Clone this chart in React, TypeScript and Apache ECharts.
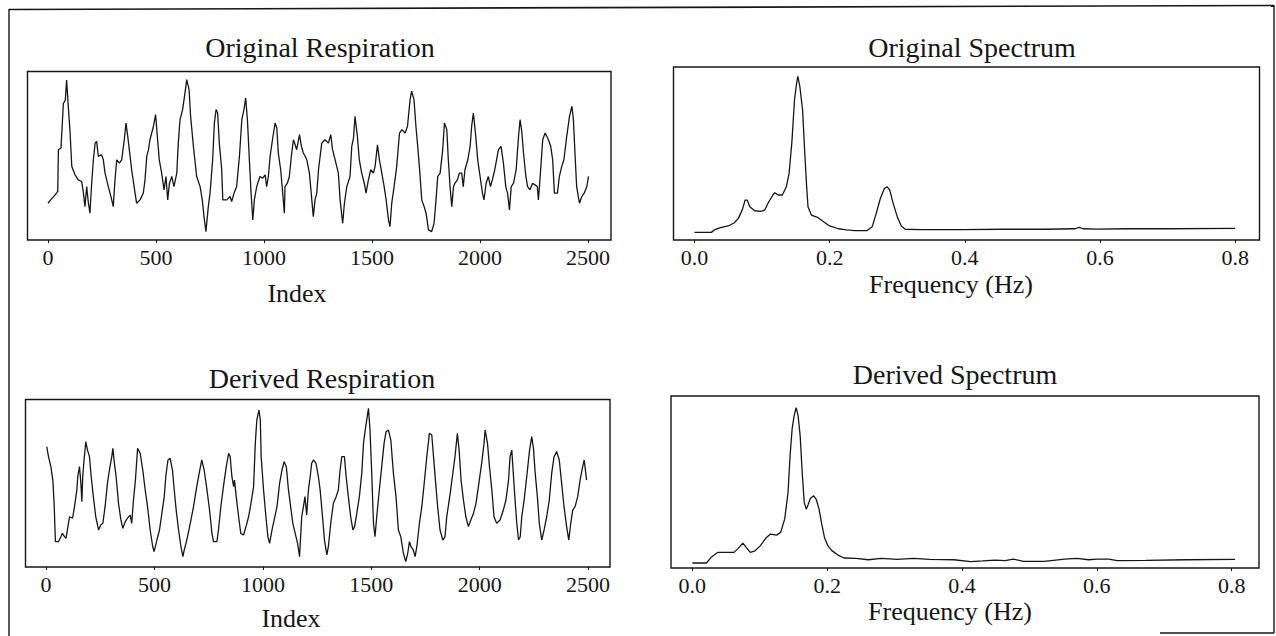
import React, { useEffect, useRef } from "react";
import * as echarts from "echarts";

// Respiration traces: [sample index, normalised amplitude 0-100]
const originalRespiration: [number, number][] = [
  [0, 21.8], [12, 23.8], [33, 26.8], [45, 28.8], [48, 53.6], [60, 54.6], [71, 81], [80, 83], [86, 95], [94, 79],
  [102, 64], [110, 43.6], [125, 38.7], [140, 35.7], [156, 34.7], [164, 27.8], [171, 19.8], [179, 31.7], [187, 21.8], [194, 15.9],
  [202, 33.7], [210, 47.6], [218, 57.5], [225, 58.5], [233, 49.6], [248, 50.6], [256, 47.6], [264, 39.7], [279, 31.7], [295, 23.8],
  [302, 19.8], [310, 35.7], [318, 47.6], [330, 45.6], [341, 47.6], [353, 59.5], [361, 69.4], [369, 61.5], [380, 49.6], [387, 41.7],
  [403, 27.8], [410, 21.8], [426, 23.8], [441, 27.8], [449, 35.7], [457, 49.6], [465, 53.6], [472, 59.5], [488, 67.5], [498, 74.4],
  [506, 61.5], [515, 47.6], [526, 39.7], [537, 29.8], [546, 37.7], [554, 23.8], [562, 33.7], [573, 37.7], [583, 31.7], [596, 39.7],
  [603, 57.5], [611, 71.4], [623, 77.4], [634, 87.3], [642, 95.2], [653, 89.3], [660, 73.4], [673, 55.6], [688, 37.7], [704, 31.7],
  [714, 23.8], [722, 13.9], [731, 5], [742, 19.8], [750, 27.8], [762, 47.6], [770, 69.4], [778, 77.4], [785, 75.4], [793, 57.5],
  [804, 41.7], [809, 23.8], [827, 23.8], [843, 25.8], [850, 22.8], [861, 27.8], [873, 31.7], [886, 49.6], [897, 71.4], [907, 77.4],
  [915, 84.3], [923, 71.4], [932, 47.6], [940, 27.8], [948, 11.9], [955, 23.8], [966, 31.7], [981, 37.7], [994, 36.7], [1005, 38.7],
  [1012, 31.7], [1020, 37.7], [1028, 49.6], [1039, 59.5], [1051, 69.4], [1059, 66.5], [1066, 51.6], [1077, 41.7], [1085, 29.8], [1094, 15.9],
  [1097, 31.7], [1108, 33.7], [1117, 37.7], [1128, 51.6], [1136, 59.5], [1144, 56.5], [1151, 53.6], [1164, 62.5], [1173, 55.6], [1182, 51.6],
  [1198, 47.6], [1210, 39.7], [1221, 23.8], [1228, 13.9], [1236, 23.8], [1244, 27.8], [1252, 41.7], [1267, 57.5], [1282, 59.5], [1298, 57.5],
  [1309, 62.5], [1317, 53.6], [1329, 47.6], [1344, 39.7], [1352, 23.8], [1364, 9.9], [1372, 21.8], [1383, 31.7], [1398, 37.7], [1406, 55.6],
  [1414, 60.5], [1421, 73.4], [1432, 61.5], [1441, 47.6], [1452, 39.7], [1464, 33.7], [1472, 27.8], [1483, 35.7], [1494, 41.7], [1506, 39.7],
  [1514, 43.7], [1525, 56.5], [1534, 47.6], [1545, 39.7], [1556, 31.7], [1565, 23.8], [1576, 11.9], [1583, 7.9], [1591, 21.8], [1602, 31.7],
  [1614, 43.7], [1627, 63.5], [1638, 65.5], [1653, 63.5], [1664, 67.5], [1676, 83.3], [1683, 88.3], [1694, 83.3], [1703, 67.5], [1710, 57.5],
  [1719, 43.7], [1730, 23.8], [1741, 19.8], [1750, 15.9], [1761, 6], [1776, 5], [1787, 9.9], [1796, 23.8], [1804, 37.7], [1815, 39.7],
  [1827, 53.6], [1835, 69.4], [1846, 65.5], [1853, 47.6], [1861, 31.7], [1869, 19.8], [1877, 31.7], [1884, 33.7], [1895, 35.7], [1904, 39.7],
  [1915, 39.7], [1922, 31.7], [1930, 41.7], [1943, 47.6], [1954, 55.6], [1961, 67.5], [1969, 75.4], [1980, 61.5], [1989, 47.6], [2000, 37.7],
  [2011, 27.8], [2018, 23.8], [2028, 33.7], [2038, 37.7], [2048, 31.7], [2057, 35.7], [2068, 41.7], [2085, 53.6], [2097, 55.6], [2108, 45.6],
  [2119, 31.7], [2127, 27.8], [2136, 17.9], [2144, 31.7], [2155, 33.7], [2167, 41.7], [2178, 61.5], [2185, 71.4], [2193, 64.5], [2201, 51.6],
  [2212, 37.7], [2220, 31.7], [2231, 29.8], [2243, 33.7], [2254, 32.7], [2265, 31.7], [2270, 23.8], [2277, 35.7], [2290, 59.5], [2301, 63.5],
  [2313, 60.5], [2327, 55.6], [2336, 47.6], [2344, 27.8], [2358, 27.8], [2367, 37.7], [2378, 43.7], [2388, 47.6], [2401, 61.5], [2414, 73.4],
  [2425, 79.4], [2432, 71.4], [2440, 49.6], [2447, 31.7], [2460, 21.8], [2471, 25.8], [2482, 27.8], [2494, 31.7], [2502, 37.7],
];

const derivedRespiration: [number, number][] = [
  [3, 71.8], [11, 65.9], [22, 59.9], [31, 51.9], [37, 38], [43, 15.1], [57, 15.1], [68, 18.1], [75, 20.1], [85, 18.1],
  [92, 17.1], [103, 26.1], [108, 30], [122, 29.1], [131, 36], [142, 46], [146, 53.9], [154, 59.9], [160, 50.9], [165, 39],
  [169, 53.9], [175, 63.9], [183, 74.8], [191, 69.8], [200, 65.9], [208, 53.9], [218, 42], [229, 30], [242, 22.1], [252, 25.1],
  [262, 26.1], [272, 36], [283, 49.9], [292, 57.9], [303, 65.9], [308, 70.8], [315, 61.9], [323, 53.9], [334, 38], [345, 28.1],
  [354, 23.1], [365, 27.1], [375, 29.1], [388, 31], [395, 26.1], [403, 40], [412, 51.9], [422, 70.8], [434, 67.9], [446, 57.9],
  [457, 46], [468, 36], [480, 22.1], [492, 12.1], [498, 9.2], [511, 16.1], [523, 22.1], [534, 32], [545, 42], [552, 53.9],
  [562, 63.9], [572, 64.9], [583, 57.9], [591, 46], [600, 34], [611, 22.1], [622, 12.1], [631, 6.2], [637, 10.1], [649, 16.1],
  [665, 26.1], [680, 36], [695, 48], [706, 55.9], [718, 63.9], [729, 57.9], [742, 46], [754, 34], [765, 20.1], [772, 15.1],
  [788, 15.1], [795, 22.1], [806, 36], [818, 48], [831, 59.9], [842, 67.9], [849, 65.9], [857, 53.9], [865, 48], [869, 51.9],
  [877, 42], [888, 30], [898, 20.1], [911, 19.1], [922, 24.1], [934, 30], [945, 38], [957, 48], [965, 73.8], [972, 87.8],
  [982, 93.7], [988, 87.8], [992, 65.9], [1003, 46], [1014, 30], [1023, 18.1], [1031, 14.1], [1042, 22.1], [1052, 28.1], [1065, 36],
  [1077, 49.9], [1088, 57.9], [1098, 62.9], [1108, 59.9], [1118, 46], [1126, 38], [1138, 26.1], [1149, 20.1], [1160, 14.1], [1169, 6.2],
  [1179, 30], [1187, 36], [1194, 42], [1202, 31], [1210, 46], [1218, 53.9], [1225, 61.9], [1233, 63.9], [1245, 61.9], [1256, 53.9],
  [1264, 46], [1275, 30], [1284, 16.1], [1295, 7.2], [1302, 12.1], [1313, 26.1], [1325, 38], [1338, 42], [1348, 46], [1356, 57.9],
  [1364, 65.9], [1376, 65.9], [1384, 53.9], [1394, 42], [1405, 30], [1415, 22.1], [1423, 24.1], [1433, 32], [1445, 42], [1456, 55.9],
  [1464, 73.8], [1472, 81.8], [1479, 87.8], [1487, 94.7], [1494, 81.8], [1502, 55.9], [1510, 26.1], [1517, 18.1], [1525, 30], [1537, 46],
  [1548, 59.9], [1559, 73.8], [1568, 80.8], [1579, 81.8], [1590, 75.8], [1602, 55.9], [1614, 42], [1625, 22.1], [1636, 18.1], [1648, 8.2],
  [1659, 3.2], [1668, 8.2], [1676, 15.1], [1683, 12.1], [1694, 10.1], [1702, 6.2], [1710, 12.1], [1722, 26.1], [1733, 36], [1744, 49.9],
  [1756, 65.9], [1768, 79.8], [1779, 78.8], [1787, 65.9], [1797, 49.9], [1806, 36], [1817, 22.1], [1830, 16.1], [1840, 18.1], [1848, 30],
  [1864, 44], [1876, 55.9], [1886, 65.9], [1897, 79.8], [1905, 69.8], [1914, 51.9], [1925, 40], [1936, 30], [1948, 24.1], [1959, 28.1],
  [1971, 32], [1983, 38], [1994, 48], [2009, 61.9], [2020, 73.8], [2025, 81.8], [2036, 73.8], [2045, 59.9], [2056, 46], [2066, 30],
  [2078, 26.1], [2094, 28.1], [2109, 34], [2121, 40], [2133, 51.9], [2140, 65.9], [2148, 69.8], [2156, 53.9], [2163, 40], [2171, 26.1],
  [2179, 16.1], [2187, 18.1], [2194, 30], [2205, 40], [2217, 53.9], [2230, 69.8], [2240, 77.8], [2248, 70.8], [2256, 55.9], [2266, 42],
  [2275, 26.1], [2286, 16.1], [2297, 22.1], [2309, 30], [2321, 40], [2332, 55.9], [2343, 65.9], [2355, 68.9], [2367, 63.9], [2378, 49.9],
  [2389, 36], [2401, 24.1], [2411, 16.1], [2420, 26.1], [2429, 34], [2440, 36], [2452, 42], [2463, 51.9], [2475, 59.9], [2482, 63.9],
  [2493, 51.9],
];

// Power spectra: [frequency in Hz, normalised power 0-100]
const originalSpectrum: [number, number][] = [
  [0, 4.4], [0.025, 4.4], [0.031, 6.2], [0.04, 7.3], [0.05, 8.1], [0.059, 10], [0.065, 12.5], [0.071, 17.7], [0.075, 23.1], [0.078, 23.1],
  [0.082, 19.2], [0.089, 16.9], [0.098, 16.5], [0.104, 17.3], [0.11, 22.1], [0.116, 26], [0.119, 27.3], [0.124, 26], [0.13, 26], [0.136, 30.8],
  [0.14, 38.5], [0.144, 55.8], [0.148, 80.8], [0.151, 90.4], [0.153, 94.6], [0.156, 88.5], [0.16, 75], [0.163, 51.9], [0.166, 30.8], [0.168, 19.2],
  [0.173, 14.4], [0.182, 13.1], [0.191, 10.6], [0.2, 8.1], [0.213, 6.5], [0.225, 5.8], [0.237, 5.4], [0.255, 5.4], [0.263, 7.7], [0.269, 15.4],
  [0.275, 24], [0.281, 29.8], [0.285, 30.8], [0.289, 28.8], [0.294, 21.2], [0.3, 13.5], [0.306, 8.1], [0.312, 6.2], [0.336, 6], [0.397, 6],
  [0.457, 6.2], [0.518, 6.2], [0.563, 6.5], [0.569, 7.3], [0.575, 6.5], [0.596, 6.3], [0.638, 6.5], [0.699, 6.5], [0.8, 6.7],
];

const derivedSpectrum: [number, number][] = [
  [0, 2.9], [0.021, 2.9], [0.028, 6.2], [0.038, 9.1], [0.062, 9.1], [0.068, 11.4], [0.075, 14.5], [0.08, 12], [0.086, 9.1], [0.093, 10],
  [0.101, 13], [0.11, 17.8], [0.116, 19.7], [0.125, 19.1], [0.131, 20.7], [0.137, 28.4], [0.142, 43.9], [0.145, 65.2], [0.148, 80.7], [0.151, 88.4],
  [0.154, 93.2], [0.157, 88.4], [0.16, 76.8], [0.163, 55.5], [0.166, 38.1], [0.169, 34.2], [0.172, 37.1], [0.175, 40.4], [0.18, 42], [0.184, 39.7],
  [0.188, 34.2], [0.192, 25.5], [0.196, 17.8], [0.201, 13], [0.207, 10.1], [0.216, 7.5], [0.225, 5.8], [0.243, 5.6], [0.261, 4.8], [0.28, 5.6],
  [0.304, 5], [0.328, 5.6], [0.352, 5], [0.388, 4.8], [0.413, 3.7], [0.431, 4.1], [0.449, 4.6], [0.464, 4.3], [0.476, 5.2], [0.491, 3.9],
  [0.522, 3.9], [0.552, 5.2], [0.57, 5.6], [0.588, 4.8], [0.6, 5.2], [0.618, 5.2], [0.63, 4.3], [0.673, 4.4], [0.733, 4.8], [0.805, 5],
];

const indexTicks = [0, 500, 1000, 1500, 2000, 2500];
const frequencyTicks = [0, 0.2, 0.4, 0.6, 0.8];

const panelTitles = ["Original Respiration", "Original Spectrum", "Derived Respiration", "Derived Spectrum"];
const indexAxisName = "Index";
const frequencyAxisName = "Frequency (Hz)";

const INK = "#161616";
const SERIF = '"Liberation Serif", "Times New Roman", serif';

function xAxisFor(gridIndex: number, min: number, max: number, ticks: number[], decimals: number) {
  return {
    type: "value",
    gridIndex,
    min,
    max,
    axisLine: { show: false },
    splitLine: { show: false },
    axisTick: { show: true, customValues: ticks, length: 3, lineStyle: { color: INK, width: 1 } },
    axisLabel: {
      customValues: ticks,
      color: INK,
      fontFamily: SERIF,
      fontSize: 22,
      margin: 6,
      formatter: (v: number) => (decimals > 0 ? v.toFixed(decimals) : String(v)),
    },
  };
}

function yAxisFor(gridIndex: number) {
  return { type: "value", gridIndex, min: 0, max: 100, show: false };
}

function text(x: number, y: number, t: string, size: number) {
  return {
    type: "text",
    x,
    y,
    style: { text: t, fill: INK, fontFamily: SERIF, fontSize: size, align: "center", verticalAlign: "middle" },
  };
}

function line(x1: number, y1: number, x2: number, y2: number, w: number) {
  return { type: "line", shape: { x1, y1, x2, y2 }, style: { stroke: INK, lineWidth: w } };
}

export default function App() {
  const ref = useRef<HTMLDivElement>(null);

  useEffect(() => {
    if (!ref.current) return;
    const chart = echarts.init(ref.current, null, { renderer: "svg" });
    const gridStyle = { show: true, borderColor: INK, borderWidth: 1.4, backgroundColor: "transparent" };
    const trace = { type: "line", showSymbol: false, symbol: "none", lineStyle: { color: INK, width: 1.3 }, silent: true };

    chart.setOption({
      animation: false,
      backgroundColor: "#ffffff",
      grid: [
        { ...gridStyle, left: 27.5, top: 71.5, width: 583.5, height: 168.5 },
        { ...gridStyle, left: 673.5, top: 67, width: 586, height: 173 },
        { ...gridStyle, left: 25.5, top: 399.5, width: 584.5, height: 167.5 },
        { ...gridStyle, left: 671, top: 396, width: 588, height: 172 },
      ],
      xAxis: [
        xAxisFor(0, -95, 2606, indexTicks, 0),
        xAxisFor(1, -0.031, 0.836, frequencyTicks, 1),
        xAxisFor(2, -95, 2601, indexTicks, 0),
        xAxisFor(3, -0.0316, 0.8405, frequencyTicks, 1),
      ],
      yAxis: [yAxisFor(0), yAxisFor(1), yAxisFor(2), yAxisFor(3)],
      series: [
        { ...trace, xAxisIndex: 0, yAxisIndex: 0, data: originalRespiration },
        { ...trace, xAxisIndex: 1, yAxisIndex: 1, data: originalSpectrum },
        { ...trace, xAxisIndex: 2, yAxisIndex: 2, data: derivedRespiration },
        { ...trace, xAxisIndex: 3, yAxisIndex: 3, data: derivedSpectrum },
      ],
      graphic: [
        // page frame
        line(9, 9.5, 1274, 5.5, 1.6),
        line(9, 9, 9, 636, 1.4),
        line(1274, 5, 1274, 633, 1.4),
        line(1160, 633, 1274, 633, 1.4),
        // panel titles
        text(320, 47, panelTitles[0], 28),
        text(972, 47, panelTitles[1], 28),
        text(322, 378, panelTitles[2], 28),
        text(955, 374, panelTitles[3], 28),
        // axis names
        text(297, 293, indexAxisName, 26),
        text(951, 284, frequencyAxisName, 26),
        text(291, 618, indexAxisName, 26),
        text(950, 611, frequencyAxisName, 26),
      ],
    });
    return () => chart.dispose();
  }, []);

  return <div ref={ref} style={{ position: "fixed", left: 0, top: 0, width: 1276, height: 636 }} />;
}
